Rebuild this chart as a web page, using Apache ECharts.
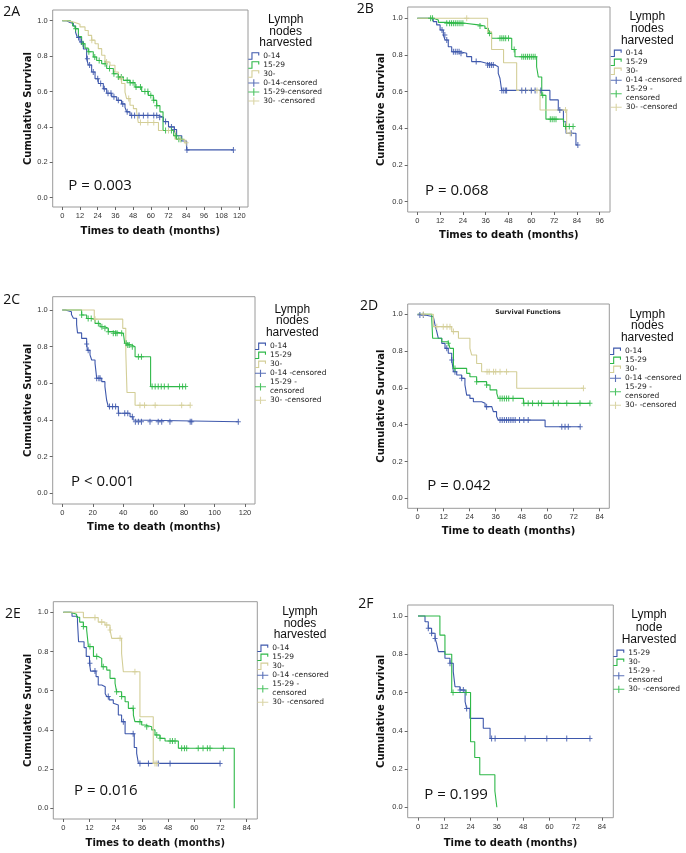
<!DOCTYPE html>
<html><head><meta charset="utf-8">
<script src="https://cdn.jsdelivr.net/npm/echarts@6/dist/echarts.min.js"></script>
<style>html,body{margin:0;padding:0;background:#fff}#c{width:686px;height:853px}</style>
</head><body><div id="c"></div>
<script>
// ---------------- DATA ----------------
// Kaplan-Meier steps: [month, survival after event]
const A_km_014 = [[0,1],[3,0.99],[5.2,0.985],[7.5,0.97],[9,0.935],[10.2,0.905],[12,0.88],[14.3,0.84],[16.5,0.785],[17.6,0.75],[19.9,0.71],[22.2,0.672],[24.4,0.645],[27.8,0.615],[30.1,0.59],[33.5,0.57],[36.9,0.55],[40.2,0.53],[42.5,0.51],[43.6,0.485],[45.9,0.465],[65,0.455],[68.5,0.43],[72,0.40],[76,0.385],[77.5,0.35],[81,0.32],[84.3,0.27]];
const A_km_1529 = [[0,1],[5.2,0.99],[7,0.97],[8.6,0.955],[10.9,0.91],[13.1,0.87],[15.4,0.845],[17.6,0.825],[21,0.795],[23.3,0.775],[26.7,0.757],[30.1,0.73],[34.6,0.70],[38,0.682],[41.4,0.663],[45.9,0.65],[49.3,0.625],[53.8,0.60],[58.3,0.578],[61.7,0.55],[64,0.52],[66.2,0.485],[68.3,0.38],[75.5,0.35],[77.5,0.33]];
const A_km_30 = [[0,1],[3,0.995],[6.3,0.99],[8.6,0.98],[12,0.965],[15.4,0.945],[17.6,0.917],[19.9,0.89],[22.2,0.87],[24.4,0.842],[26.7,0.805],[28.9,0.767],[32.3,0.748],[35.7,0.71],[38,0.672],[40.2,0.645],[42.5,0.597],[43.6,0.56],[45.9,0.522],[48.2,0.503],[50.4,0.484],[51.5,0.425],[65.2,0.38],[76.4,0.33],[83,0.31]];
const A_cens_014 = [11,13,17,18.5,21,24,26,28.5,31,33,35,38,41,44,47,49,52,55,58,62,64,66,70,74,76,84.5,116];
const A_cens_1529 = [9,14,18,22,25,29,32,35,38,40,44,46,48,50,53,56,58,60,62,64,70,74,77,79,80.5];
const A_cens_30 = [20,30,40,45,53,58,62,72,80,84];

const B_km_014 = [[0,1],[6.7,0.995],[8.4,0.982],[10.2,0.964],[12,0.936],[13.7,0.909],[14.6,0.882],[16.3,0.845],[18.1,0.818],[22.5,0.809],[26,0.791],[28.6,0.764],[33,0.755],[36.5,0.745],[40.9,0.736],[42.6,0.70],[43.5,0.673],[44.4,0.607],[69.8,0.555],[74.2,0.50],[76.9,0.436],[78.3,0.373],[83.5,0.309]];
const B_km_1529 = [[0,1],[8.4,0.991],[11.1,0.978],[15.5,0.973],[25.1,0.964],[32.1,0.958],[35.6,0.945],[37.4,0.918],[39.1,0.891],[49.7,0.83],[51.4,0.79],[62.8,0.736],[63.7,0.68],[65.5,0.58],[67.7,0.45],[77,0.41]];
const B_km_30 = [[0,1],[37,0.927],[39.1,0.83],[45.4,0.758],[52.3,0.607],[64.6,0.50],[78.6,0.373]];
const B_cens_014 = [13,14.5,15.5,19,20,21,22,23,31,37,38,39,40,44.5,45.5,46.5,47,55,57,60,62,65,75,81,84.5];
const B_cens_1529 = [7,8,15.5,17,18,19,20,21,22,23,24,33,38,43.5,44.5,45.5,46.5,48,51,55,56,57,58,59,60,61,62,66,70,71,72,73,78,80,82];
const B_cens_30 = [26,63,78,80.5];

const C_km_014 = [[0,1],[2,0.99],[6,0.975],[7.3,0.955],[9.4,0.92],[10,0.875],[12.7,0.845],[16,0.815],[16.5,0.78],[18.2,0.755],[19.3,0.727],[21.5,0.709],[22.6,0.627],[25.9,0.609],[28,0.582],[29.1,0.509],[30.2,0.473],[36.8,0.437],[44.5,0.418],[46.5,0.40],[47.8,0.39]];
const C_km_1529 = [[0,1],[12.7,0.973],[16,0.954],[19.3,0.945],[21.5,0.927],[24.8,0.909],[28,0.90],[30.2,0.882],[33.5,0.873],[40.1,0.864],[41,0.818],[42.3,0.809],[45.6,0.80],[47.8,0.745],[58,0.582]];
const C_km_30 = [[0,1],[21,0.95],[39.7,0.90],[41.7,0.77],[42.5,0.55],[47.8,0.48]];
const C_cens_014 = [16,17,22.6,24,24.8,31,33,35,37,41,43,46,48,50,52,57.6,63,65.3,70.7,84,85,115.6];
const C_cens_1529 = [12.7,17,19,23.7,26,28,30.2,33.5,35,36,39,42,43,44,46,50,52,59,61,63,65,67,69.6,77,79,81];
const C_cens_30 = [21.5,51,54,61,78.4,84];

const D_km_014 = [[0,1],[0.3,0.996],[3.4,0.987],[7.2,0.978],[8,0.942],[8.8,0.906],[9.5,0.87],[11.1,0.842],[12.6,0.815],[14.1,0.788],[15.7,0.752],[16.5,0.688],[18,0.67],[20.3,0.652],[21.8,0.616],[22.6,0.561],[24.1,0.543],[25.7,0.525],[29.5,0.516],[31.1,0.498],[34.2,0.489],[34.9,0.471],[36.4,0.444],[37.2,0.425],[58.8,0.389]];
const D_km_1529 = [[0,1],[6.5,0.97],[6.9,0.87],[11.1,0.851],[14.1,0.842],[14.9,0.815],[16.5,0.706],[22.6,0.679],[24.1,0.661],[27.2,0.634],[31.8,0.616],[33.4,0.589],[36.5,0.57],[37.2,0.543],[48.8,0.516]];
const D_km_30 = [[0,1],[7.2,0.933],[15.7,0.906],[18.8,0.87],[24.1,0.815],[24.9,0.779],[27.2,0.733],[29.5,0.688],[45.7,0.598]];
const D_cens_014 = [1,2.6,13.4,15.7,17.2,20.3,31.8,38,39,40,41,42,43,44,45,47,49,51,66.5,68,69.5,75];
const D_cens_1529 = [14.1,17.2,27.2,31.8,38,39,40,41,42,44,49,51,53,55.7,57.2,62.6,64.9,68.8,74.9,79.5];
const D_cens_30 = [2.6,8.8,11.8,13.5,14.9,16.5,32,33,35,36,38,41,76.5];

const E_km_014 = [[0,1],[4,0.98],[6.5,0.95],[7,0.85],[9.5,0.82],[10.5,0.775],[12,0.74],[12.5,0.70],[15,0.672],[16,0.629],[17.6,0.62],[19.2,0.585],[19.9,0.57],[21,0.553],[22.9,0.536],[23.7,0.527],[25.2,0.476],[26.7,0.442],[28.3,0.38],[32.5,0.31],[33.6,0.28],[34.4,0.229]];
const E_km_1529 = [[0,1],[3.1,0.99],[6.1,0.975],[7.5,0.95],[9.2,0.927],[10.7,0.91],[11.5,0.825],[13.8,0.775],[16,0.765],[17.6,0.722],[19.9,0.705],[21.4,0.663],[23.7,0.638],[24.4,0.595],[26.7,0.57],[28.3,0.544],[29.8,0.51],[32.1,0.476],[32.8,0.442],[35.9,0.425],[37.4,0.416],[40.5,0.40],[42,0.374],[44.3,0.357],[46.6,0.343],[52.7,0.306],[78.3,0]];
const E_km_30 = [[0,1],[9.2,0.973],[16,0.95],[19.1,0.935],[21.4,0.91],[22.2,0.867],[26.7,0.79],[27.5,0.697],[35.1,0.467],[41.2,0.229]];
const E_cens_014 = [12.2,14.5,20.6,27.5,32,35.1,39,43.5,48.9,71.8];
const E_cens_1529 = [9.2,12.2,15.3,18.3,24.4,26.7,32,35.1,38.2,42.8,44.3,48.9,50,51.2,54.2,55.5,56.5,61.8,64,66,67.2,73.3];
const E_cens_30 = [14.5,17.6,19.9,21.4,26,32.8,42,42.8];

const F_km_1529 = [[0,1],[3.2,0.97],[4.7,0.936],[6.2,0.91],[7.8,0.883],[8.5,0.857],[9.3,0.814],[12.3,0.779],[14.6,0.753],[16.1,0.709],[16.9,0.63],[19.2,0.613],[21.5,0.552],[22.2,0.517],[23.7,0.465],[29.8,0.413],[32.9,0.36]];
const F_km_30 = [[0,1],[10,0.9],[12.3,0.8],[15.4,0.6],[24,0.343],[25.9,0.26],[28.2,0.17],[35.1,0.085],[36,0]];
const F_cens_1529 = [4.7,6.2,7.8,14.6,19.2,20.7,22.2,33.6,35.2,48.9,58.8,67.9,78.5];
const F_cens_30 = [16,22];

// tick labels
const xTicks120by12 = [0,12,24,36,48,60,72,84,96,108,120];
const xTicks96 = [0,12,24,36,48,60,72,84,96];
const xTicks120by20 = [0,20,40,60,80,100,120];
const xTicks84 = [0,12,24,36,48,60,72,84];
const yTicks = [0,0.2,0.4,0.6,0.8,1.0];

// ---------------- STYLE / LAYOUT ----------------
const BLUE = '#3E58AC', GREEN = '#2EB848', TAN = '#D3CE97';
const stepIcon = 'path://M0,7.4H3.4V0.4H12V4H10.8V1.6H4.6V8.6H0Z';
const censIcon = 'path://M0,3.9H12V5.1H0Z M5.4,0.5H6.6V8.5H5.4Z';
const plusSym = 'path://M2.5,0H3.5V6H2.5Z M0.6,2.5H5.4V3.5H0.6Z';

const groupsStd = (km, cens, n2) => [
  {name:'0-14', cname:n2[0], color:BLUE, km:km[0], cens:cens[0]},
  {name:'15-29', cname:n2[1], color:GREEN, km:km[1], cens:cens[1]},
  {name:'30-', cname:n2[2], color:TAN, km:km[2], cens:cens[2]}
];
const censNamesA = ['0-14-censored','15-29-censored','30- -censored'];
const censNamesB = ['0-14 -censored','15-29 -\ncensored','30- -censored'];

const panels = [
  {box:[52.7,10,248,207], x0:62.3, xM:120, xMpx:239.3, y1:20.7, y0:197.7, xTicks:xTicks120by12,
   xName:'Times to death (months)', xGap:19, yGap:19.4, label:'2A', labelPos:[3.3,11.7],
   pText:'P = 0.003', pPos:[68.3,186], legTitle:'Lymph\nnodes\nharvested', legTitlePos:[285.7,14.3], legLH:11.5,
   legPos:[248.3,51.5], groups:groupsStd([A_km_014,A_km_1529,A_km_30],[A_cens_014,A_cens_1529,A_cens_30],censNamesA)},
  {box:[407.7,7,610,212], x0:417.3, xM:96, xMpx:599.7, y1:18.3, y0:201.7, xTicks:xTicks96,
   xName:'Times to death (months)', xGap:18, yGap:21, label:'2B', labelPos:[356.7,9.2],
   pText:'P = 0.068', pPos:[425,191], legTitle:'Lymph\nnodes\nharvested', legTitlePos:[647.3,10.6], legLH:12.2,
   legPos:[610.7,48.8], groups:groupsStd([B_km_014,B_km_1529,B_km_30],[B_cens_014,B_cens_1529,B_cens_30],censNamesB)},
  {box:[52.7,296.7,255,504], x0:62.3, xM:120, xMpx:245, y1:310, y0:493.3, xTicks:xTicks120by20,
   xName:'Time to death (months)', xGap:18, yGap:19.7, label:'2C', labelPos:[3.3,300.5],
   pText:'P < 0.001', pPos:[71,482], legTitle:'Lymph\nnodes\nharvested', legTitlePos:[292.3,303.5], legLH:11.7,
   legPos:[255,341.8], groups:groupsStd([C_km_014,C_km_1529,C_km_30],[C_cens_014,C_cens_1529,C_cens_30],censNamesB)},
  {box:[407.7,304,609.3,508.3], x0:417.7, xM:84, xMpx:599.7, y1:314.3, y0:498.3, xTicks:xTicks84,
   xName:'Time to death (months)', xGap:18.4, yGap:21, label:'2D', labelPos:[360,306],
   pText:'P = 0.042', pPos:[427.3,485.8], legTitle:'Lymph\nnodes\nharvested', legTitlePos:[647.3,308.5], legLH:11.5,
   legPos:[610,346.8], subTitle:'Survival Functions', subPos:[528,312.7],
   groups:groupsStd([D_km_014,D_km_1529,D_km_30],[D_cens_014,D_cens_1529,D_cens_30],censNamesB)},
  {box:[53.3,601.7,257.3,819], x0:63.3, xM:84, xMpx:246.7, y1:612.3, y0:808.3, xTicks:xTicks84,
   xName:'Times to death (months)', xGap:19, yGap:20, label:'2E', labelPos:[5,614],
   pText:'P = 0.016', pPos:[74,790.3], legTitle:'Lymph\nnodes\nharvested', legTitlePos:[300,605.9], legLH:11.7,
   legPos:[257.3,643.8], groups:groupsStd([E_km_014,E_km_1529,E_km_30],[E_cens_014,E_cens_1529,E_cens_30],censNamesB)},
  {box:[407.7,605,613.3,817.7], x0:418, xM:84, xMpx:602, y1:616, y0:807.3, xTicks:xTicks84,
   xName:'Time to death (months)', xGap:20.3, yGap:21, label:'2F', labelPos:[358.3,604],
   pText:'P = 0.199', pPos:[424.3,794.5], legTitle:'Lymph\nnode\nHarvested', legTitlePos:[649,608.9], legLH:12.2,
   legPos:[613.3,648.8], groups:[
     {name:'15-29', cname:'15-29 -\ncensored', color:BLUE, km:F_km_1529, cens:F_cens_1529},
     {name:'30-', cname:'30- -censored', color:GREEN, km:F_km_30, cens:F_cens_30}]}
];

function survAt(km, t){ let v = km[0][1]; for (const p of km){ if (p[0] <= t) v = p[1]; else break; } return v; }

const option = {animation:false, backgroundColor:'#fff', grid:[], xAxis:[], yAxis:[], series:[], legend:[], graphic:[]};
const tickFont = 'Liberation Sans';
const nameStyle = {fontFamily:'DejaVu Sans', fontWeight:'bold', fontSize:10, color:'#111'};

panels.forEach((p, i) => {
  const [l,t,r,b] = p.box;
  const ppm = (p.xMpx - p.x0) / p.xM;
  const ppu = p.y0 - p.y1;
  option.grid.push({left:l, top:t, width:r-l, height:b-t, show:true, borderColor:'#9a9a9a', borderWidth:1, containLabel:false});
  option.xAxis.push({type:'value', gridIndex:i, position:'bottom', min:-(p.x0-l)/ppm, max:p.xM+(r-p.xMpx)/ppm,
    axisLine:{show:false, onZero:false}, splitLine:{show:false},
    axisTick:{show:true, length:3, customValues:p.xTicks, lineStyle:{color:'#666'}},
    axisLabel:{customValues:p.xTicks, fontSize:7.5, fontFamily:tickFont, color:'#333', margin:5},
    name:p.xName, nameLocation:'middle', nameGap:p.xGap, nameTextStyle:nameStyle});
  option.yAxis.push({type:'value', gridIndex:i, position:'left', min:-(b-p.y0)/ppu, max:1+(p.y1-t)/ppu,
    axisLine:{show:false, onZero:false}, splitLine:{show:false},
    axisTick:{show:true, length:3, customValues:yTicks, lineStyle:{color:'#666'}},
    axisLabel:{customValues:yTicks, fontSize:7.5, fontFamily:tickFont, color:'#333', margin:5, formatter:v=>v.toFixed(1)},
    name:'Cumulative Survival', nameLocation:'middle', nameGap:p.yGap, nameTextStyle:nameStyle});
  const legData = [];
  p.groups.forEach(g => {
    const last = g.km[g.km.length-1];
    const endT = Math.max(last[0], ...g.cens);
    const line = g.km.slice();
    if (endT > last[0]) line.push([endT, last[1]]);
    option.series.push({type:'line', name:g.name, xAxisIndex:i, yAxisIndex:i, data:line, step:'end',
      showSymbol:false, symbol:'none', lineStyle:{color:g.color, width:1.1}, itemStyle:{color:g.color}, z:2, silent:true});
    legData.push({name:g.name, icon:stepIcon, itemStyle:{color:g.color, borderWidth:0}});
  });
  p.groups.forEach(g => {
    option.series.push({type:'scatter', name:g.cname, xAxisIndex:i, yAxisIndex:i,
      data:g.cens.map(c => [c, survAt(g.km, c)]), symbol:plusSym, symbolSize:[5,6],
      itemStyle:{color:g.color, opacity:0.85}, z:3, silent:true});
    legData.push({name:g.cname, icon:censIcon, itemStyle:{color:g.color, borderWidth:0}});
  });
  option.legend.push({orient:'vertical', left:p.legPos[0], top:p.legPos[1], padding:0, itemGap:0,
    itemWidth:11, itemHeight:9, selectedMode:false, data:legData, itemStyle:{borderWidth:0},
    textStyle:{fontFamily:'DejaVu Sans', fontSize:7.5, lineHeight:9, color:'#222', padding:[0,0,0,-1]}});
  option.graphic.push(
    {type:'text', x:p.labelPos[0], y:p.labelPos[1], style:{text:p.label, font:'14px "Open Sans"', fill:'#111', align:'left', verticalAlign:'middle'}},
    {type:'text', x:p.pPos[0], y:p.pPos[1], style:{text:p.pText, font:'15px "Open Sans"', fill:'#111', align:'left', verticalAlign:'middle'}},
    {type:'text', x:p.legTitlePos[0], y:p.legTitlePos[1], style:{text:p.legTitle, font:'12px "Liberation Sans"', lineHeight:p.legLH, fill:'#111', align:'center', verticalAlign:'top'}}
  );
  if (p.subTitle) option.graphic.push({type:'text', x:p.subPos[0], y:p.subPos[1],
    style:{text:p.subTitle, font:'bold 6.3px "DejaVu Sans"', fill:'#222', align:'center', verticalAlign:'middle'}});
});

const chart = echarts.init(document.getElementById('c'), null, {renderer:'canvas'});
chart.setOption(option);
</script></body></html>
